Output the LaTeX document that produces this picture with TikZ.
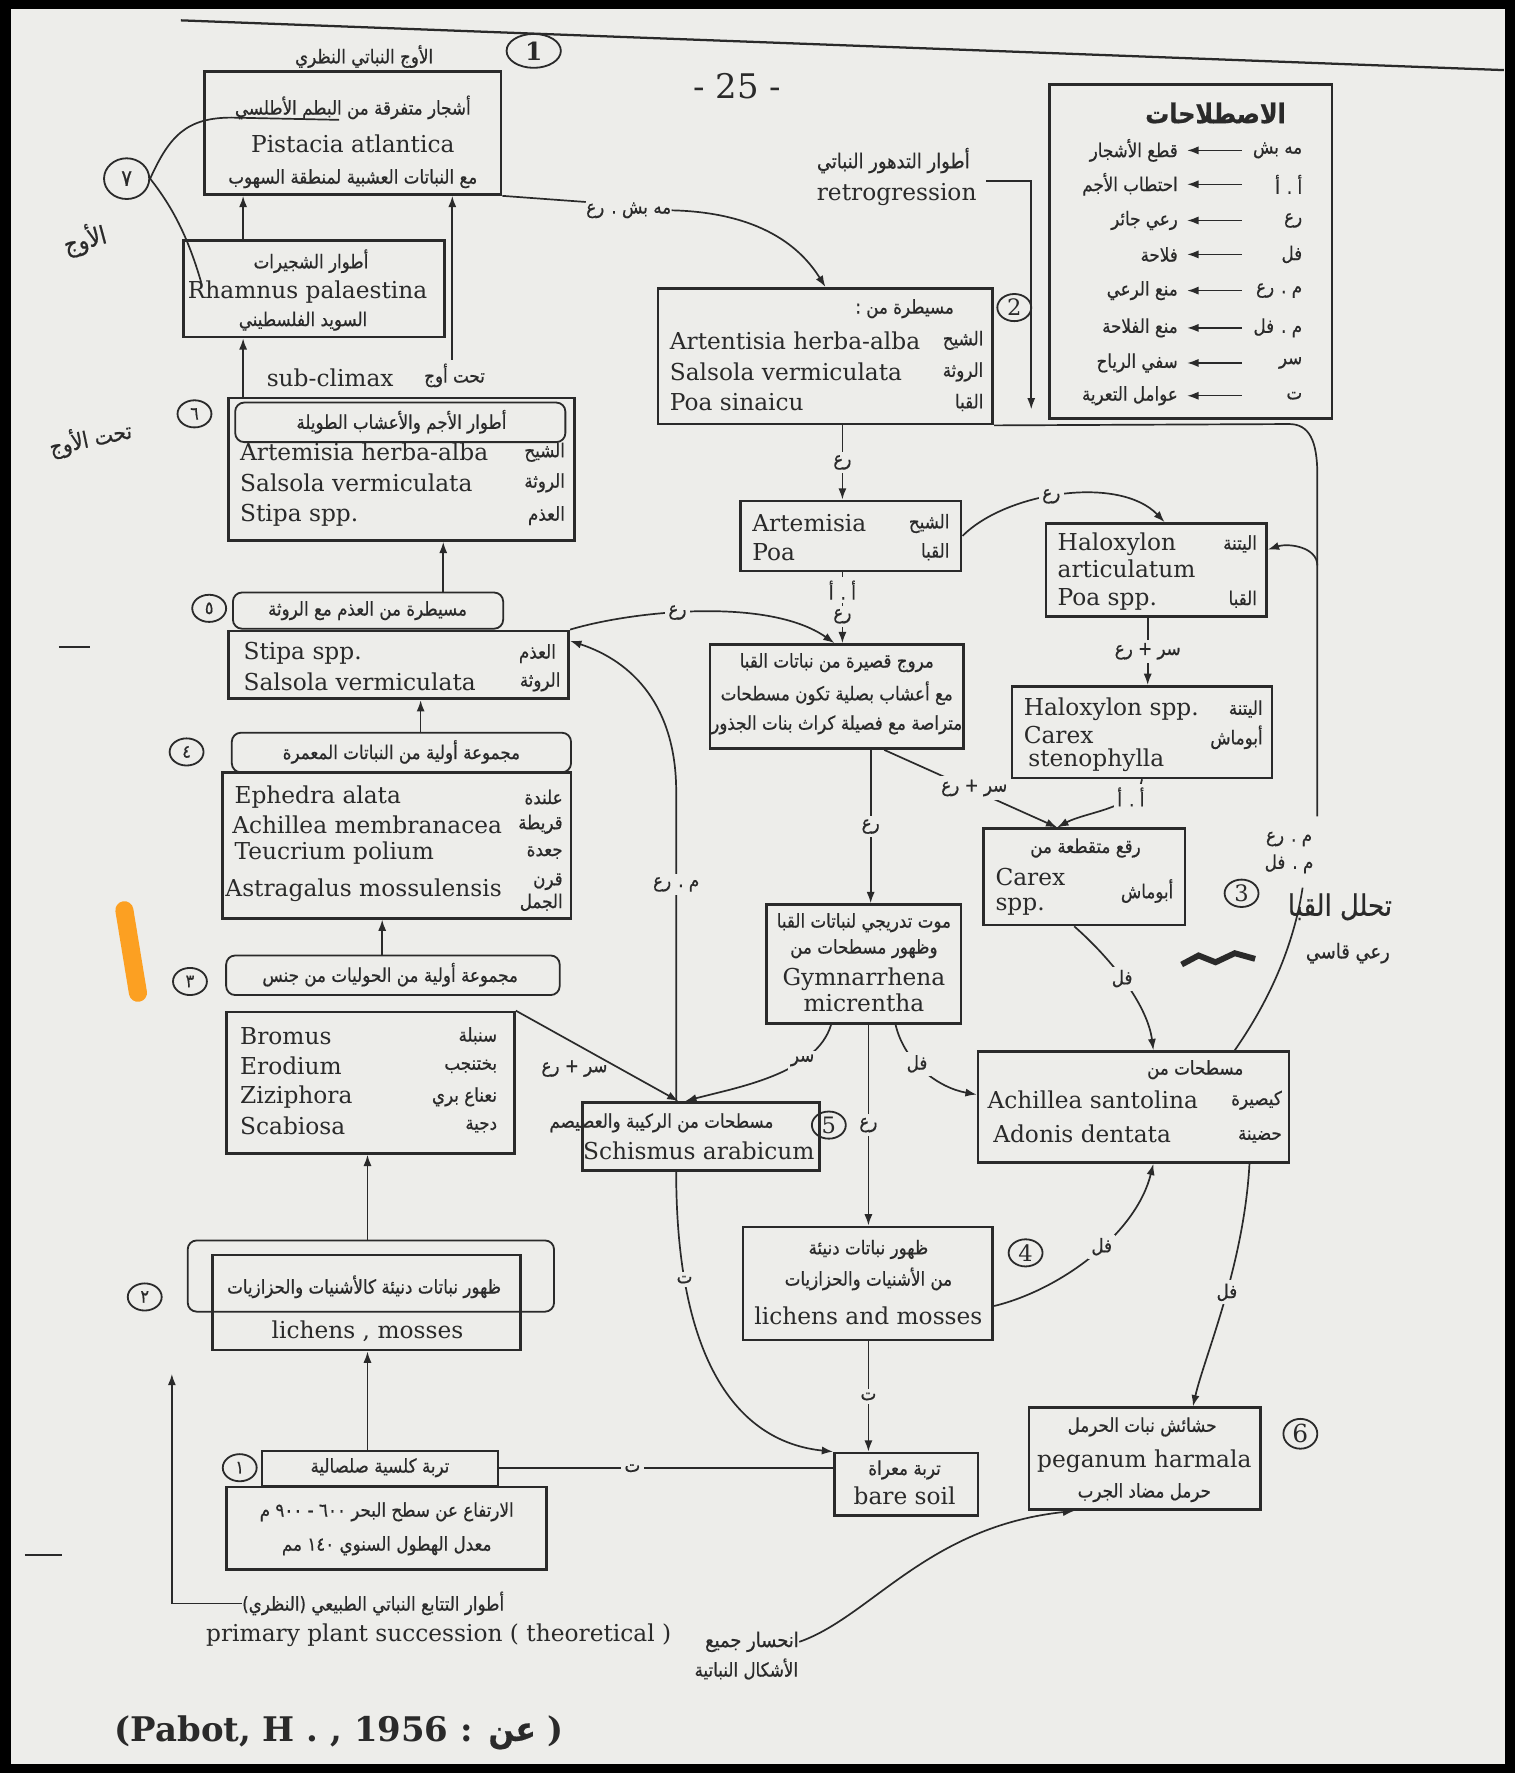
\documentclass[tikz,border=0pt]{standalone}
\usepackage{fontspec}
\setmainfont{DejaVu Serif}
\newfontfamily\latfont{DejaVu Serif}
\newfontfamily\arabicfont[Script=Arabic, FakeStretch=0.88, FakeBold=0.6]{DejaVu Sans}
\TeXXeTstate=1
\usetikzlibrary{arrows.meta,shapes.geometric,fit}
\definecolor{bg}{HTML}{EDEDEA}
\definecolor{ink}{HTML}{2A2A2A}
\newcommand{\AR}[1]{{\arabicfont\beginR #1\endR}}
\begin{document}
\begin{tikzpicture}[x=0.5pt,y=-0.5pt,
  box/.style={draw=ink, line width=1.2pt, inner sep=0pt, rectangle},
  brk/.style={draw=ink, line width=0.8pt, rounded corners=4pt, inner sep=0pt, rectangle},
  lat/.style={font=\latfont\fontsize{10.3}{12}\selectfont, text=ink, inner sep=0pt},
  ara/.style={font=\arabicfont\fontsize{8.4}{10}\selectfont, text=ink, inner sep=0pt},
  num/.style={draw=ink, ellipse, line width=0.8pt, inner sep=0.5pt, minimum width=15pt, minimum height=12pt, font=\arabicfont\fontsize{8}{9}\selectfont, text=ink},
  con/.style={draw=ink, line width=0.75pt},
  arr/.style={con, -{Latex[length=5pt,width=3.6pt]}},
  lab/.style={ara, fill=bg, inner sep=1.5pt},
]
\fill[black] (0,0) rectangle (1340,1568);
\fill[bg] (10,8) rectangle (1331,1560);
\useasboundingbox (0,0) rectangle (1340,1568);

% top rule and page number
\coordinate (tr1) at (160,18); \coordinate (tr2) at (1330,62);
\draw[con, line width=1pt] (tr1) -- (tr2);
\node[font=\latfont\fontsize{15}{15}\selectfont, text=ink] (pg) at (652,76) {- 25 -};

% ---------- left column ----------
\node[ara] (t1) at (322,50) {\AR{الأوج النباتي النظري}};
\node[num, minimum width=24pt, minimum height=15pt, font=\latfont\bfseries\fontsize{11}{11}\selectfont] (n1) at (472,45) {1};
\node[box, fit={(181,63) (443,172)}] (b1) {};
\node[ara] (b1a) at (312,95) {\AR{أشجار متفرقة من البطم الأطلسي}};
\node[lat] (b1b) at (312,127) {Pistacia atlantica};
\node[ara] (b1c) at (312,158) {\AR{مع النباتات العشبية لمنطقة السهوب}};

\node[num, minimum width=20pt, minimum height=18pt, font=\arabicfont\fontsize{10}{10}\selectfont] (n7) at (112,158) {٧};
\node[ara, rotate=15, font=\arabicfont\fontsize{11}{11}\selectfont] (awj) at (75,212) {الأوج};
\coordinate (u1) at (300,106);
\coordinate (u2) at (178,250);
\draw[con] (n7.east) .. controls (150,120) and (165,104) .. (205,104) -- (u1);
\draw[con] (n7.east) .. controls (150,180) and (165,205) .. (u2);

\node[box, fit={(162,213) (393,298)}] (b7) {};
\node[ara] at (275,231) {\AR{أطوار الشجيرات}};
\node[lat] at (272,258) {Rhamnus palaestina};
\node[ara] at (268,284) {\AR{السويد الفلسطيني}};
\draw[arr] (215,0 |- b7.north) -- (215,0 |- b1.south);
\coordinate (sc) at (400,318);
\draw[arr] (sc) -- (400,0 |- b1.south);
\node[lat] (subc) at (292,334) {sub-climax};
\node[ara] (subca) at (402,332) {\AR{تحت أوج}};

\node[num] (n6) at (172,366) {٦};
\node[ara, rotate=12, font=\arabicfont\fontsize{10}{10}\selectfont] (tja) at (80,388) {\AR{تحت الأوج}};
\node[box, fit={(202,352) (508,478)}] (b6) {};
\node[brk, fit={(208,356) (500,391)}] (h6) {};
\node[ara] at (355,373) {\AR{أطوار الأجم والأعشاب الطويلة}};
\node[lat, anchor=west] at (212,400) {Artemisia herba-alba};
\node[lat, anchor=west] at (212,427) {Salsola vermiculata};
\node[lat, anchor=west] at (212,456) {Stipa spp.};
\node[ara, anchor=east] at (500,400) {الشيح};
\node[ara, anchor=east] at (500,427) {الروثة};
\node[ara, anchor=east] at (500,456) {العذم};
\draw[arr] (215,0 |- b6.north) -- (215,0 |- b7.south);

\node[num] (n5) at (185,538) {٥};
\node[brk, fit={(206,524) (445,556)}] (h5) {};
\node[ara] at (325,540) {\AR{مسيطرة من العذم مع الروثة}};
\node[box, fit={(202,558) (503,618)}] (b5) {};
\node[lat, anchor=west] at (215,578) {Stipa spp.};
\node[lat, anchor=west] at (215,603) {Salsola vermiculata};
\node[ara, anchor=east] at (492,578) {العذم};
\node[ara, anchor=east] at (496,603) {الروثة};
\draw[arr] (392,0 |- h5.north) -- (392,0 |- b6.south);

\node[num] (n4) at (165,665) {٤};
\node[brk, fit={(205,648) (505,683)}] (h4) {};
\node[ara] at (355,665) {\AR{مجموعة أولية من النباتات المعمرة}};
\node[box, fit={(197,683) (505,812)}] (b4) {};
\node[lat, anchor=west] at (207,705) {Ephedra alata};
\node[lat, anchor=west] at (205,729) {Achillea membranacea};
\node[lat, anchor=west] at (207,754) {Teucrium polium};
\node[lat, anchor=west] at (199,787) {Astragalus mossulensis};
\node[ara, anchor=east] at (498,705) {علندة};
\node[ara, anchor=east] at (498,729) {قريطة};
\node[ara, anchor=east] at (498,754) {جعدة};
\node[ara, anchor=east, align=right] at (498,789) {قرن\\الجمل};
\draw[arr] (372,0 |- h4.north) -- (372,0 |- b5.south);

\node[num] (n3) at (168,868) {٣};
\node[brk, fit={(200,845) (495,880)}] (h3) {};
\node[ara] at (345,862) {\AR{مجموعة أولية من الحوليات من جنس}};
\node[box, fit={(200,895) (455,1020)}] (b3) {};
\node[lat, anchor=west] at (212,916) {Bromus};
\node[lat, anchor=west] at (212,943) {Erodium};
\node[lat, anchor=west] at (212,970) {Ziziphora};
\node[lat, anchor=west] at (212,996) {Scabiosa};
\node[ara, anchor=east] at (440,916) {سنبلة};
\node[ara, anchor=east] at (440,943) {بختنجب};
\node[ara, anchor=east] at (440,970) {\AR{نعناع بري}};
\node[ara, anchor=east] at (440,996) {دجية};
\draw[arr] (338,0 |- h3.north) -- (338,0 |- b4.south);

\node[num] (n2) at (128,1147) {٢};
\node[box, fit={(188,1110) (460,1194)}] (b2) {};
\node[brk, fit={(166,1097) (490,1160)}] (h2) {};
\node[ara] at (322,1138) {\AR{ظهور نباتات دنيئة كالأشنيات والحزازيات}};
\node[lat] at (325,1177) {lichens , mosses};
\draw[arr] (325,0 |- h2.north) -- (325,0 |- b3.south);

\node[num] (n1b) at (212,1298) {١};
\node[box, line width=0.9pt, fit={(232,1283) (440,1314)}] (hs) {};
\node[ara] at (336,1298) {\AR{تربة كلسية صلصالية}};
\node[box, fit={(200,1315) (483,1388)}] (bs) {};
\node[ara] at (342,1337) {\AR{الارتفاع عن سطح البحر ٦٠٠ - ٩٠٠ م}};
\node[ara] at (342,1367) {\AR{معدل الهطول السنوي ١٤٠ مم}};
\draw[arr] (325,0 |- hs.north) -- (325,0 |- b2.south);

\node[ara] (pl) at (330,1418) {\AR{أطوار التتابع النباتي الطبيعي (النظري)}};
\coordinate (plc) at (152,1418);
\coordinate (plt) at (152,1215);
\draw[arr] (pl.west) -- (plc) -- (plt);
\node[lat] (pe) at (388,1446) {primary plant succession ( theoretical )};
\node[font=\latfont\bfseries\fontsize{15}{18}\selectfont, text=ink] (cit) at (300,1532) {(Pabot, H . , 1956 : {\arabicfont عن} )};

% margin marks
\coordinate (mk1) at (52,572); \coordinate (mk2) at (80,572);
\draw[con, line width=1pt] (mk1) -- (mk2);
\coordinate (mk3) at (22,1375); \coordinate (mk4) at (55,1375);
\draw[con, line width=1pt] (mk3) -- (mk4);
\coordinate (or1) at (110,805); \coordinate (or2) at (122,878);
\draw[orange!85!yellow, line width=8pt, line cap=round, opacity=0.85] (or1) -- (or2);

% ---------- right column ----------
\node[ara, font=\arabicfont\fontsize{9}{10}\selectfont] (rA) at (790,142) {\AR{أطوار التدهور النباتي}};
\node[lat] (rE) at (793,172) {retrogression};
\coordinate (rS) at (872,160); \coordinate (rB) at (912,160); \coordinate (rC) at (912,362);
\draw[arr] (rS) -- (rB) -- (rC);

\node[box, fit={(582,255) (878,375)}] (b8) {};
\node[num, font=\latfont\fontsize{10}{10}\selectfont] (n2r) at (897,272) {2};
\node[ara] at (800,273) {\AR{مسيطرة من :}};
\node[lat, anchor=west] at (592,301) {Artentisia herba-alba};
\node[lat, anchor=west] at (592,329) {Salsola vermiculata};
\node[lat, anchor=west] at (592,356) {Poa sinaicu};
\node[ara, anchor=east] at (870,301) {الشيح};
\node[ara, anchor=east] at (870,329) {الروثة};
\node[ara, anchor=east] at (870,356) {القبا};

\node[ara] (lb1) at (556,186) {\AR{مه بش . رع}};
\draw[con] (b1.south east) -- (lb1.north west);
\draw[arr] (lb1.east) .. controls (680,188) and (712,225) .. (730,0 |- b8.north);

% legend
\node[box, fit={(928,75) (1178,370)}] (lg) {};
\node[font=\arabicfont\bfseries\fontsize{12}{14}\selectfont, text=ink] (lgt) at (1075,100) {الاصطلاحات};
\foreach \i/\y/\a/\m in {1/133/{مه بش}/{قطع الأشجار},2/163/{أ . أ}/{احتطاب الأجم},3/195/{رع}/{رعي جائر},4/225/{فل}/{فلاحة},5/257/{م . رع}/{منع الرعي},6/290/{م . فل}/{منع الفلاحة},7/321/{سر}/{سفي الرياح},8/350/{ت}/{عوامل التعرية}}{
  \node[ara, anchor=east] (a\i) at (1152,\y) {\AR{\a}};
  \node[ara, anchor=east] (m\i) at (1042,\y) {\AR{\m}};
  \draw[arr, line width=0.6pt] (1098,0 |- a\i.east) -- (1050,0 |- m\i.east);
}

% Artemisia / Poa
\node[box, fit={(655,443) (850,505)}] (b9) {};
\node[lat, anchor=west] at (665,463) {Artemisia};
\node[lat, anchor=west] at (665,488) {Poa};
\node[ara, anchor=east] at (840,463) {الشيح};
\node[ara, anchor=east] at (840,488) {القبا};
\draw[arr] (745,0 |- b8.south) -- (745,0 |- b9.north) node[lab, midway]{رع};

% Haloxylon articulatum
\node[box, fit={(925,463) (1120,545)}] (hx1) {};
\node[lat, anchor=west] at (935,481) {Haloxylon};
\node[lat, anchor=west] at (935,503) {articulatum};
\node[lat, anchor=west] at (935,530) {Poa spp.};
\node[ara, anchor=east] at (1112,481) {اليتنة};
\node[ara, anchor=east] at (1112,530) {القبا};
\draw[arr] (b9.east) .. controls (890,435) and (990,420) .. (1030,0 |- hx1.north) node[lab, pos=0.45]{رع};

% Haloxylon spp
\node[box, fit={(895,607) (1125,688)}] (hx2) {};
\node[lat, anchor=west] at (905,627) {Haloxylon spp.};
\node[lat, anchor=west] at (905,650) {Carex};
\node[lat, anchor=west] at (909,672) {stenophylla};
\node[ara, anchor=east] at (1117,627) {اليتنة};
\node[ara, anchor=east] at (1117,652) {أبوماش};
\draw[arr] (1015,0 |- hx1.south) -- (1015,0 |- hx2.north) node[lab, midway]{\AR{سر + رع}};

% paragraph box
\node[box, fit={(628,570) (852,662)}] (pb) {};
\node[ara] at (740,586) {\AR{مروج قصيرة من نباتات القبا}};
\node[ara] at (740,613) {\AR{مع أعشاب بصلية تكون مسطحات}};
\node[ara] at (740,641) {\AR{متراصة مع فصيلة كراث بنات الجذور}};
\draw[arr, dashed] (745,0 |- b9.south) -- (745,0 |- pb.north) node[lab, pos=0.25]{\AR{أ . أ}} node[lab, pos=0.62]{رع};
\draw[arr] (b5.north east) .. controls (560,540) and (680,528) .. (738,0 |- pb.north) node[lab, pos=0.42]{رع};

% Carex box
\node[box, fit={(870,733) (1048,818)}] (cx) {};
\node[ara] at (960,750) {\AR{رقع متقطعة من}};
\node[lat, anchor=west] at (880,776) {Carex};
\node[lat, anchor=west] at (880,802) {spp.};
\node[ara, anchor=east] at (1038,788) {أبوماش};
\draw[arr] (1010,0 |- hx2.south) .. controls (1006,715) and (960,718) .. (935,0 |- cx.north) node[lab, pos=0.25]{\AR{أ . أ}};
\draw[arr] (782,0 |- pb.south) -- (935,0 |- cx.north) node[lab, pos=0.52, yshift=1pt]{\AR{سر + رع}};
\node[num, font=\latfont\fontsize{10}{10}\selectfont] (n3r) at (1098,790) {3};
\node[ara, font=\arabicfont\fontsize{13}{13}\selectfont] (tq) at (1185,802) {\AR{تحلل القبا}};
\node[ara, font=\arabicfont\fontsize{9}{9}\selectfont] (rq) at (1192,843) {\AR{رعي قاسي}};
\coordinate (sq1) at (1045,853); \coordinate (sq2) at (1060,845); \coordinate (sq3) at (1075,851); \coordinate (sq4) at (1092,843); \coordinate (sq5) at (1110,848);
\draw[ink, line width=2.6pt] (sq1) -- (sq2) -- (sq3) -- (sq4) -- (sq5);

% Gymnarrhena
\node[box, fit={(678,800) (850,905)}] (gy) {};
\node[ara] at (764,816) {\AR{موت تدريجي لنباتات القبا}};
\node[ara] at (764,839) {\AR{وظهور مسطحات من}};
\node[lat] at (764,866) {Gymnarrhena};
\node[lat] at (764,887) {micrentha};
\draw[arr] (770,0 |- pb.south) -- (770,0 |- gy.north) node[lab, midway]{رع};

% Schismus
\node[box, fit={(515,975) (725,1035)}] (sch) {};
\node[ara] at (585,993) {\AR{مسطحات من الركيبة والعصيصم}};
\node[lat] at (618,1018) {Schismus arabicum};
\node[num, font=\latfont\fontsize{10}{10}\selectfont] (n5r) at (733,995) {5};
\draw[arr] (b3.north east) -- (600,0 |- sch.north);
\node[ara] (lsr) at (508,945) {\AR{سر + رع}};
\draw[arr] (598,0 |- sch.north) -- (598,700) node[lab, pos=0.70]{\AR{م . رع}} .. controls (598,625) and (560,585) .. ([yshift=-5pt]b5.north east);
\draw[arr] (735,0 |- gy.south) .. controls (722,950) and (650,962) .. (606,0 |- sch.north) node[lab, pos=0.3]{سر};

% Achillea
\node[box, fit={(865,930) (1140,1028)}] (ach) {};
\node[ara, anchor=east] at (1100,946) {\AR{مسطحات من}};
\node[lat, anchor=west] at (873,973) {Achillea santolina};
\node[lat, anchor=west] at (878,1003) {Adonis dentata};
\node[ara, anchor=east] at (1134,973) {كيصيرة};
\node[ara, anchor=east] at (1134,1005) {حضينة};
\draw[arr] (950,0 |- cx.south) .. controls (985,850) and (1015,890) .. (1020,0 |- ach.north) node[lab, pos=0.45]{فل};
\draw[arr] (792,0 |- gy.south) .. controls (800,940) and (830,962) .. (ach.west |- 0,968) node[lab, pos=0.4]{فل};

% right long return path
\coordinate (rr0) at (1140,375);
\coordinate (rr1) at (1165,722);
\coordinate (rr2) at (1152,785);
\coordinate (rrb) at (1165,500);
\draw[con] (b8.south east) -- (rr0) .. controls (1158,375) and (1165,390) .. (1165,420) -- (rr1);
\draw[arr] (rrb) .. controls (1165,484) and (1140,480) .. (hx1.east |- 0,486);
\node[ara] (mra) at (1140,742) {\AR{م . رع}};
\node[ara] (mfl) at (1140,764) {\AR{م . فل}};
\draw[con] (rr2) .. controls (1142,850) and (1112,900) .. (1092,0 |- ach.north);

% lichens and mosses
\node[box, fit={(657,1085) (878,1185)}] (lm) {};
\node[ara] at (768,1105) {\AR{ظهور نباتات دنيئة}};
\node[ara] at (768,1131) {\AR{من الأشنيات والحزازيات}};
\node[lat] at (768,1164) {lichens and mosses};
\node[num, font=\latfont\fontsize{10}{10}\selectfont] (n4r) at (907,1108) {4};
\draw[arr] (768,0 |- gy.south) -- (768,0 |- lm.north) node[lab, pos=0.5]{رع};
\draw[arr] (lm.east |- 0,1155) .. controls (940,1140) and (1005,1090) .. (1020,0 |- ach.south) node[lab, pos=0.55]{فل};

% bare soil
\node[box, fit={(738,1285) (865,1340)}] (bare) {};
\node[ara] at (800,1300) {\AR{تربة معراة}};
\node[lat] at (800,1323) {bare soil};
\draw[arr] (768,0 |- lm.south) -- (768,0 |- bare.north) node[lab, midway]{ت};
\draw[arr] (598,0 |- sch.south) .. controls (598,1200) and (650,1275) .. (bare.north west) node[lab, pos=0.22]{ت};
\draw[con] (hs.east) -- (bare.west |- hs.east) node[lab, pos=0.4]{ت};

% Peganum
\node[box, fit={(910,1245) (1115,1335)}] (peg) {};
\node[num, font=\latfont\fontsize{11}{11}\selectfont] (n6r) at (1150,1268) {6};
\node[ara] at (1010,1262) {\AR{حشائش نبات الحرمل}};
\node[lat] at (1012,1292) {peganum harmala};
\node[ara] (pg3) at (1012,1320) {\AR{حرمل مضاد الجرب}};
\draw[arr] (1105,0 |- ach.south) .. controls (1100,1120) and (1065,1200) .. (1055,0 |- peg.north) node[lab, pos=0.45]{فل};

\node[ara, font=\arabicfont\fontsize{9}{10}\selectfont] (ex1) at (665,1452) {\AR{انحسار جميع}};
\node[ara] (ex2) at (660,1476) {\AR{الأشكال النباتية}};
\draw[arr] (ex1.east) .. controls (770,1430) and (820,1350) .. (950,0 |- peg.south);
\end{tikzpicture}
\end{document}
